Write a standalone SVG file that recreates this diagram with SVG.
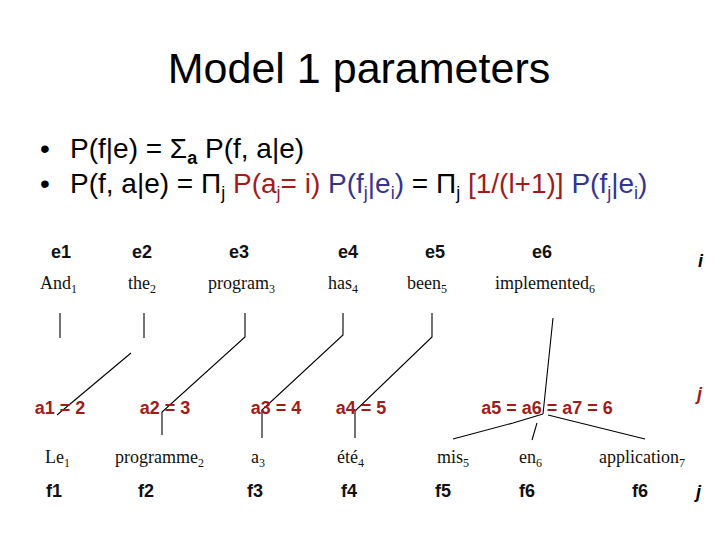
<svg xmlns="http://www.w3.org/2000/svg" width="720" height="540" viewBox="0 0 720 540">
<style>
.title{font-family:"Liberation Sans",Arial,sans-serif;font-size:43px;fill:#000}
.bul{font-family:"Liberation Sans",Arial,sans-serif;font-size:28px;fill:#000}
.sub{font-size:18px}
.red{fill:#A01C1C}
.blue{fill:#35358F}
.lab{font-family:"Liberation Sans",Arial,sans-serif;font-size:18px;font-weight:bold;fill:#111;text-anchor:middle}
.al{font-family:"Liberation Sans",Arial,sans-serif;font-size:18px;font-weight:bold;fill:#A01C1C;text-anchor:middle}
.w{font-family:"Liberation Serif","Times New Roman",serif;font-size:18px;fill:#111}
.ws{font-size:12px}
.it{font-family:"Liberation Sans",Arial,sans-serif;font-size:18px;font-style:italic;font-weight:bold}
.ln{fill:none;stroke:#000;stroke-width:1.1}
</style>
<rect width="720" height="540" fill="#fff"/>
<g id="title"><text class="title" x="359" y="83" text-anchor="middle">Model 1 parameters</text></g>
<g id="bullets">
<text class="bul" x="40" y="158">•</text>
<text class="bul" x="70" y="158">P(f|e) = Σ<tspan class="sub" font-weight="bold" dy="6">a</tspan><tspan dy="-6"> P(f, a|e)</tspan></text>
<text class="bul" x="40" y="193">•</text>
<text class="bul" x="70" y="193">P(f, a|e) = Π<tspan class="sub" dy="6">j</tspan><tspan dy="-6" class="red"> P(a</tspan><tspan class="sub red" dy="6">j</tspan><tspan dy="-6" class="red">= i)</tspan><tspan class="blue"> P(f</tspan><tspan class="sub blue" dy="6">j</tspan><tspan dy="-6" class="blue">|e</tspan><tspan class="sub blue" dy="6">i</tspan><tspan dy="-6" class="blue">)</tspan> = Π<tspan class="sub" dy="6">j</tspan><tspan dy="-6" class="red"> [1/(l+1)]</tspan><tspan class="blue"> P(f</tspan><tspan class="sub blue" dy="6">j</tspan><tspan dy="-6" class="blue">|e</tspan><tspan class="sub blue" dy="6">i</tspan><tspan dy="-6" class="blue">)</tspan></text>
</g>
<g id="connectors">
<path class="ln" d="M60,313 V338"/>
<path class="ln" d="M144,313 V338"/>
<path class="ln" d="M131,353 L57,415"/>
<path class="ln" d="M245,313 V337 L162,412 V435"/>
<path class="ln" d="M343,313 V335 L262,410 V438"/>
<path class="ln" d="M432,313 V337 L355,411 V438"/>
<path class="ln" d="M553,318 L543,414"/>
<path class="ln" d="M543,414 L513,423 L453,439"/>
<path class="ln" d="M548,415 L645,439"/>
<path class="ln" d="M537,423 L532,440"/>
</g>
<g id="e1"><text class="lab" x="61" y="258">e1</text><text class="w" x="40" y="289">And<tspan class="ws" dy="4">1</tspan></text></g>
<g id="e2"><text class="lab" x="142" y="258">e2</text><text class="w" x="128" y="289">the<tspan class="ws" dy="4">2</tspan></text></g>
<g id="e3"><text class="lab" x="239" y="258">e3</text><text class="w" x="208" y="289">program<tspan class="ws" dy="4">3</tspan></text></g>
<g id="e4"><text class="lab" x="348" y="258">e4</text><text class="w" x="328" y="289">has<tspan class="ws" dy="4">4</tspan></text></g>
<g id="e5"><text class="lab" x="435" y="258">e5</text><text class="w" x="407" y="289">been<tspan class="ws" dy="4">5</tspan></text></g>
<g id="e6"><text class="lab" x="542" y="258">e6</text><text class="w" x="495" y="289">implemented<tspan class="ws" dy="4">6</tspan></text></g>
<g id="i-label"><text class="it" x="698" y="267">i</text></g>
<g id="a1"><text class="al" x="60" y="414">a1 = 2</text></g>
<g id="a2"><text class="al" x="165" y="414">a2 = 3</text></g>
<g id="a3"><text class="al" x="276" y="414">a3 = 4</text></g>
<g id="a4"><text class="al" x="361" y="414">a4 = 5</text></g>
<g id="a567"><text class="al" x="547" y="414">a5 = a6 = a7 = 6</text></g>
<g id="j-label"><text class="it red" x="697" y="400">j</text></g>
<g id="f1"><text class="w" x="45" y="463">Le<tspan class="ws" dy="4">1</tspan></text><text class="lab" x="54" y="497">f1</text></g>
<g id="f2"><text class="w" x="115" y="463">programme<tspan class="ws" dy="4">2</tspan></text><text class="lab" x="146" y="497">f2</text></g>
<g id="f3"><text class="w" x="251" y="463">a<tspan class="ws" dy="4">3</tspan></text><text class="lab" x="255" y="497">f3</text></g>
<g id="f4"><text class="w" x="337" y="463">été<tspan class="ws" dy="4">4</tspan></text><text class="lab" x="349" y="497">f4</text></g>
<g id="f5"><text class="w" x="437" y="463">mis<tspan class="ws" dy="4">5</tspan></text><text class="lab" x="443" y="497">f5</text></g>
<g id="f6"><text class="w" x="519" y="463">en<tspan class="ws" dy="4">6</tspan></text><text class="lab" x="527" y="497">f6</text></g>
<g id="f7"><text class="w" x="599" y="463">application<tspan class="ws" dy="4">7</tspan></text><text class="lab" x="640" y="497">f6</text></g>
<g id="j-label2"><text class="it" x="696" y="498">j</text></g>
</svg>
